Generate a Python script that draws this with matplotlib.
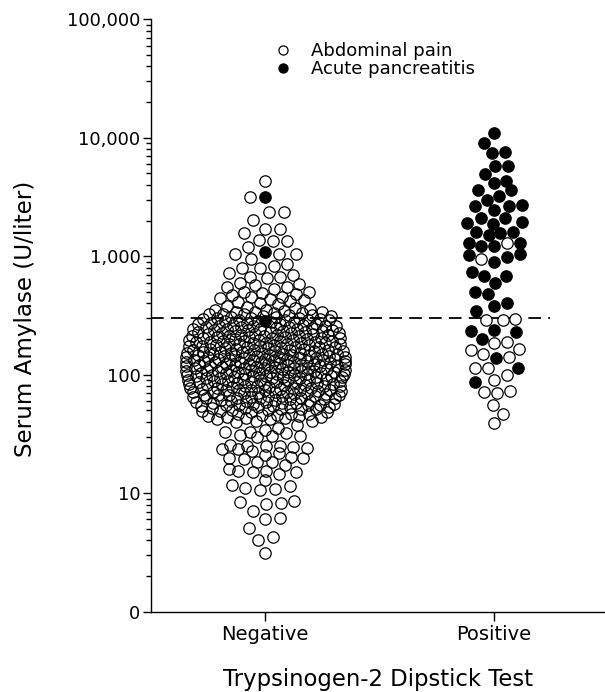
import matplotlib
matplotlib.use("Agg")
import matplotlib.pyplot as plt
from matplotlib.ticker import FixedLocator, LogLocator, NullFormatter
import numpy as np

groups = ["Negative", "Positive"]
series_labels = ["Abdominal pain", "Acute pancreatitis"]

# serum amylase (U/liter)
# negative dipstick, abdominal pain (open circles)
neg_pain_high = [4310, 3180, 2380, 2370, 2020, 1700, 1690, 1580, 1350, 1340, 1360, 1190,
                 1050, 1040, 1045, 940, 800, 826, 855, 795, 694, 664, 660, 668, 718, 571,
                 582, 553, 550, 597, 526, 502, 498, 486, 427, 444, 456, 452, 482, 413, 380, 340,
                 350, 362, 366, 374, 392, 401, 420, 436, 468]
neg_pain_mid = [40, 41, 41, 42, 43, 43, 44, 44, 45, 42,
                45, 46, 47, 46, 48, 47, 49, 48, 50, 49, 47, 50,
                51, 52, 51, 53, 54, 52, 55, 53, 56, 54, 55, 53, 56, 51,
                57, 58, 60, 57, 59, 61, 62, 58, 60, 63, 59, 61, 62, 60, 63, 58,
                64, 66, 65, 68, 64, 67, 70, 65, 69, 66, 71, 68, 67, 70, 64, 69, 66, 70,
                72, 74, 73, 76, 75, 78, 72, 77, 74, 79, 76, 73, 75, 78, 72, 77, 75, 79, 74,
                80, 82, 81, 84, 83, 86, 85, 88, 80, 87, 82, 89, 84, 81, 86, 83, 88, 85, 87, 82,
                90, 92, 91, 94, 93, 96, 95, 98, 97, 100, 90, 93, 95, 92, 99, 96, 94, 98, 91, 97, 100,
                101, 103, 102, 105, 104, 107, 106, 109, 108, 111, 110, 102, 104, 106, 108, 103,
                105, 112, 107, 109, 101, 110,
                113, 115, 114, 117, 116, 119, 118, 121, 120, 123, 122, 125, 124, 126, 114, 118,
                120, 116, 122, 113, 124, 119, 121,
                127, 129, 128, 131, 130, 133, 132, 135, 134, 137, 136, 139, 138, 141, 140, 128,
                132, 136, 130, 134, 138, 127, 140,
                142, 144, 143, 146, 145, 148, 147, 150, 149, 152, 151, 154, 153, 156, 155, 158,
                157, 144, 150, 146, 152, 148,
                159, 161, 160, 164, 162, 166, 165, 169, 167, 172, 170, 175, 173, 178, 176, 163,
                168, 171, 174, 161, 177,
                179, 182, 180, 185, 183, 188, 186, 191, 189, 194, 192, 197, 195, 200, 198, 184,
                190, 187, 193, 181,
                202, 205, 203, 208, 206, 211, 209, 214, 212, 218, 215, 221, 219, 224, 222, 207,
                213, 217, 204,
                226, 229, 227, 233, 230, 237, 234, 241, 238, 245, 242, 249, 246, 251, 231, 239,
                244, 235,
                253, 257, 255, 262, 259, 267, 264, 272, 269, 277, 274, 282, 279, 260, 270, 256,
                285, 289, 287, 295, 292, 300, 297, 306, 303, 312, 309, 316, 290, 304,
                319, 324, 321, 330, 327, 337, 333, 345, 341, 352, 326]
neg_pain_low = [3.1, 4.0, 4.3, 5.1, 6.0, 6.2, 8.1, 8.3, 7.1, 8.6, 8.4, 10.6, 11.1, 10.8,
                11.6, 11.7, 12.9, 14.4, 15.4, 15.4, 15.2, 15.9, 15.2, 17.3, 18.2, 20.1, 20,
                18.5, 19.3, 21, 19.7, 21.7, 25, 22.8, 25.5, 25, 23.9, 23.5, 25, 23.5, 24.4,
                33, 30, 32.4, 30.4, 31, 33, 35.3, 34.1, 30.4, 37.6]
neg_pancreatitis = [3140, 1090, 285]

# positive dipstick
pos_pancreatitis = [11000, 9070, 7620, 7380, 5770, 5770, 4940, 4340, 4120, 3620, 3620, 2980,
                    3220, 2700, 2650, 2650, 2450, 2090, 1920, 1950, 2110, 1860, 1610, 1510,
                    1610, 1560, 1300, 1220, 1300, 1220, 1025, 990, 1040, 899, 680, 680, 731,
                    591, 501, 477, 405, 380, 347, 231, 238, 232, 199, 139, 113, 87]
pos_pain = [1300, 942, 290, 290, 293, 190, 162, 165, 184, 150, 140, 113, 99, 113, 90, 72,
            70, 73, 55, 47, 39]

cutoff = 300

ytick_vals = [1, 10, 100, 1000, 10000, 100000]
ytick_labels = ["0", "10", "100", "1,000", "10,000", "100,000"]


def swarm(ax, xc, vals, first=(), diam=12.0, gap=15.0, wmax=80.0, lam=0.6):
    # side-by-side placement in pixels; row width grows with how crowded the row is
    vals = np.asarray(vals, dtype=float)
    pts = ax.transData.transform(np.column_stack([np.full(len(vals), xc), vals]))
    ys = pts[:, 1]
    sx = ax.transData.transform((1, 1))[0] - ax.transData.transform((0, 1))[0]
    n_local = (np.abs(ys[:, None] - ys[None, :]) < diam / 2).sum(axis=1)
    half = np.minimum(16.0 * n_local ** 0.42, wmax)
    cand = np.arange(-wmax - 10, wmax + 10.5, 0.5)
    cand = cand[np.argsort(np.abs(cand), kind="stable")]
    order = list(first) + [i for i in np.argsort(ys, kind="stable") if i not in first]
    px, py = [], []
    off = np.zeros(len(vals))
    for k, i in enumerate(order):
        y = ys[i]
        cc = cand[np.abs(cand) <= half[i]]
        if k % 2:
            cc = -cc
        c = 0.0
        if px:
            ax_ = np.array(px)
            ay = np.array(py)
            near = np.abs(ay - y) < gap
            if near.any():
                dx = cc[:, None] - ax_[near][None, :]
                dy = (y - ay[near])[None, :]
                dist = np.sqrt(dx ** 2 + dy ** 2)
                cost = (np.clip(gap - dist, 0, None) ** 2).sum(axis=1)
                cost = cost + lam * np.abs(cc) * (cost.min() > 0)
                c = cc[np.argmin(cost)]
        off[i] = c
        px.append(c)
        py.append(y)
    return xc + off / sx


fig = plt.figure(figsize=(6.05, 6.92), dpi=100)
ax = fig.add_axes([0.2496, 0.1161, 0.7504, 0.856])
ax.set_yscale("log")
ax.set_ylim(1, 100000)
ax.set_xlim(-0.4978, 1.4847)

neg_pain = neg_pain_high + neg_pain_mid + neg_pain_low
n1 = len(neg_pain)
n2 = len(pos_pain)
neg_all = np.array(neg_pain + neg_pancreatitis, dtype=float)
neg_x = swarm(ax, 0, neg_all, first=range(n1, len(neg_all)))
pos_all = np.array(pos_pain + pos_pancreatitis, dtype=float)
pos_x = swarm(ax, 1, pos_all, gap=13.0, wmax=28.0)

ax.plot([-0.4978, 1.2445], [cutoff, cutoff], color="black", lw=1.3,
        linestyle=(0, (7, 4)), zorder=1)

style = dict(linestyle="none", marker="o", ms=8.2, mew=0.9, mec="black")
h_open, = ax.plot(neg_x[:n1], neg_all[:n1], mfc="none", zorder=2, **style)
ax.plot(pos_x[:n2], pos_all[:n2], mfc="white", zorder=2, **style)
ax.plot(neg_x[n1:], neg_all[n1:], mfc="black", zorder=3, **style)
h_fill, = ax.plot(pos_x[n2:], pos_all[n2:], mfc="black", zorder=3, **style)

ax.legend([h_open, h_fill], series_labels, loc="upper left", bbox_to_anchor=(0.2715, 0.9617),
          frameon=False, borderpad=0, borderaxespad=0, handlelength=1.0,
          handletextpad=1.05, labelspacing=0.0, fontsize=13, markerscale=0.8)

ax.yaxis.set_major_locator(FixedLocator(ytick_vals))
ax.set_yticklabels(ytick_labels)
ax.yaxis.set_minor_locator(LogLocator(base=10, subs=np.arange(2, 10)))
ax.yaxis.set_minor_formatter(NullFormatter())
ax.set_xticks([0, 1])
ax.set_xticklabels(groups)

ax.tick_params(axis="y", which="major", length=6, width=1.0, pad=1.5, labelsize=13)
ax.tick_params(axis="y", which="minor", length=3.6, width=1.0)
ax.tick_params(axis="x", length=6.5, width=1.0, pad=3, labelsize=14)
for s in ["top", "right"]:
    ax.spines[s].set_visible(False)
for s in ["left", "bottom"]:
    ax.spines[s].set_linewidth(1.0)

ax.set_xlabel("Trypsinogen-2 Dipstick Test", fontsize=16.4)
ax.xaxis.set_label_coords(0.5, -0.115)
ax.xaxis.label.set_va("center")
ax.set_ylabel("Serum Amylase (U/liter)", fontsize=16.6)
ax.yaxis.set_label_coords(-0.276, 0.495)
ax.yaxis.label.set_va("center")

fig.savefig("out.png", dpi=100)
